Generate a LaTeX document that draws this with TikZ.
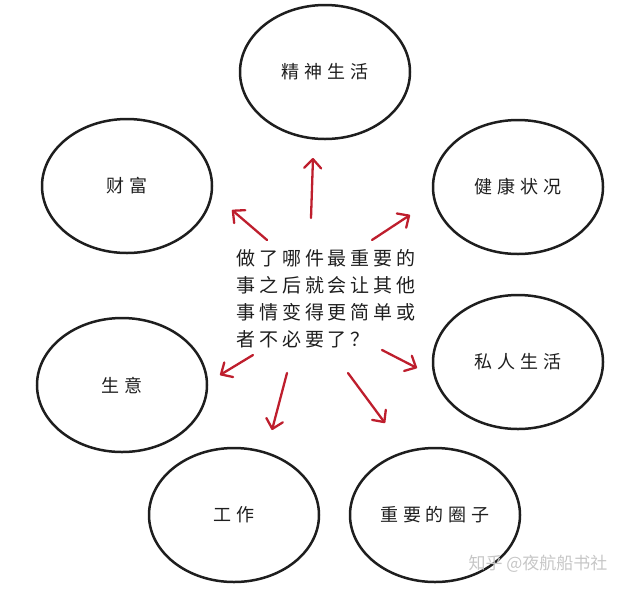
\documentclass[tikz,border=0pt]{standalone}
\usepackage{fontspec}
\usepackage{tikz}
\usetikzlibrary{shapes.geometric, arrows.meta}
\newfontfamily\cjk[LetterSpace=27]{Noto Sans CJK SC}
\newfontfamily\cjkq[LetterSpace=20]{Noto Sans CJK SC}
\newfontfamily\cjkplain{Noto Sans CJK SC}
\definecolor{inkred}{RGB}{190,30,45}
\definecolor{inkblack}{RGB}{30,30,30}

\begin{document}
\begin{tikzpicture}[x=1pt, y=-1pt,
  area/.style={ellipse, draw=inkblack, line width=2.5pt, minimum width=170pt,
    minimum height=134pt, inner sep=0pt, text=inkblack, font=\cjk\fontsize{18}{18}\selectfont},
  arr/.style={inkred, line width=2.3pt, line cap=round,
    -{Straight Barb[length=9pt, width=17pt, round]}}]
  \useasboundingbox (0,0) rectangle (631,590);

  % Circles of life areas
  \node[area] (spirit)   at (325,72)  {精神生活};
  \node[area] (wealth)   at (127,186) {财富};
  \node[area] (health)   at (518,187) {健康状况};
  \node[area] (business) at (122,385) {生意};
  \node[area] (private)  at (518,362) {私人生活};
  \node[area] (work)     at (234,515) {工作};
  \node[area] (people)   at (435,515) {重要的圈子};

  % Central question
  \node[align=left, inner sep=0pt, text=inkblack, font=\cjkq\fontsize{19}{27}\selectfont] (question) at (326,299)
    {做了哪件最重要的\\事之后就会让其他\\事情变得更简单或\\者不必要了？};

  % Arrows pointing outwards
  \foreach \n/\sx/\sy/\ex/\ey in {up/311/218/313/158, ul/267/240/232/210,
      ur/372/240/410/215, rt/382/350/417/368, dl/253/355/220/375,
      dn/287/373/272/430, dr/348/373/385/423}{
    \coordinate (\n s) at (\sx,\sy);
    \coordinate (\n e) at (\ex,\ey);
    \draw[arr] (\n s) -- (\n e);
  }

  % Watermark
  \node[text=gray!45, font=\cjkplain\fontsize{17}{17}\selectfont] (mark) at (538,564) {知乎 @夜航船书社};
\end{tikzpicture}
\end{document}
